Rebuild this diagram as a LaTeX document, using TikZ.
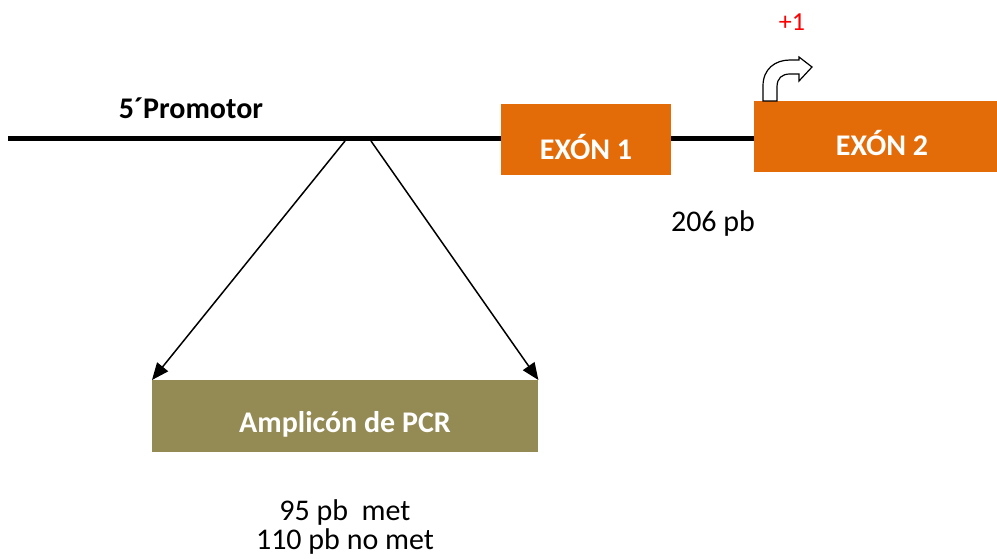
\documentclass[tikz,border=0pt]{standalone}
\usepackage{fontspec}
\setmainfont{Carlito}
\usetikzlibrary{arrows.meta}
\definecolor{exonorange}{HTML}{E36C09}
\definecolor{ampolive}{HTML}{948A54}
\begin{document}
\begin{tikzpicture}[x=1pt,y=-1pt,
  txt/.style={font=\fontsize{30}{36}\selectfont},
  boldtxt/.style={font=\fontsize{30}{36}\selectfont\bfseries},
  exonbox/.style={fill=exonorange, draw=none, inner sep=0pt, anchor=north west},
  dna/.style={line width=5pt},
  guide/.style={line width=1.5pt, -{Triangle[length=17pt,width=14pt]}}]
\useasboundingbox (0,0) rectangle (997,559);

% exons
\node[exonbox, minimum width=170pt, minimum height=71pt] (ex1) at (501,104) {};
\node[exonbox, minimum width=250pt, minimum height=71pt] (ex2) at (754,101) {};
\node[boldtxt, text=white] (ex1t) at (586,147) {EXÓN 1};
\node[boldtxt, text=white] (ex2t) at (882,143) {EXÓN 2};

% promoter strand
\coordinate (s0) at (8,139);
\draw[dna] (s0) -- (s0 -| ex1.west);
\draw[dna] (ex1.east |- s0) -- (ex2.west |- s0);
\node[boldtxt] (prom) at (191,108) {5´Promotor};

% amplicon
\node[fill=ampolive, inner sep=0pt, minimum width=386pt, minimum height=72pt, anchor=north west] (amp) at (152,380) {};
\node[boldtxt, text=white] (ampt) at (345,424) {Amplicón de PCR};
\coordinate (pa) at (345,141);
\coordinate (pb) at (371,141);
\draw[guide] (pa) -- (amp.north west);
\draw[guide] (pb) -- (amp.north east);

% sizes
\node[txt] (lbl206) at (713,224) {206 pb};
\node[txt, align=center] (lblamp) at (345,527) {95 pb\ \ met\\[-7pt]110 pb no met};

% transcription start
\node[text=red, font=\fontsize{26}{30}\selectfont] (plus1) at (792,22) {+1};
\draw[line width=1.2pt, fill=white, line join=miter]
  (763,101) -- (763,86) .. controls (763,69) and (775,60) .. (790,60)
  -- (799,60) -- (799,57) -- (812,67) -- (799,81) -- (799,74) -- (790,74)
  .. controls (782,74) and (777,78) .. (777,87) -- (777,101) -- cycle;
\end{tikzpicture}
\end{document}
